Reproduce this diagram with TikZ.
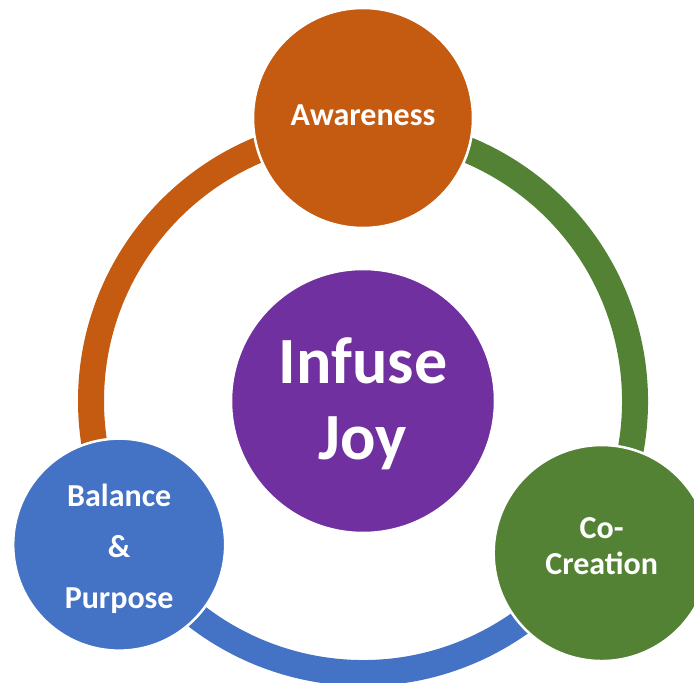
\documentclass[tikz,border=0pt]{standalone}
\usepackage{fontspec}
\setmainfont{Carlito}
\definecolor{awareorange}{HTML}{C55A11}
\definecolor{cogreen}{HTML}{548235}
\definecolor{balblue}{HTML}{4472C4}
\definecolor{joypurple}{HTML}{7030A0}
\tikzset{
  bubble/.style={circle, draw=white, line width=2.5pt, inner sep=0pt},
  caption/.style={text=white, align=center, inner sep=0pt, font=\bfseries\fontsize{32}{36}\selectfont},
  ringarc/.style={line width=26pt}
}
\begin{document}
\begin{tikzpicture}[x=1pt,y=1pt]
  % Ring parameters
  \def\ringradius{272pt} % radius of the coloured ring
  \def\spoke{283}        % distance from the hub to the outer circles

  \useasboundingbox (0,0) rectangle (694,683);
  \clip (0,0) rectangle (694,683);
  \coordinate (hub) at (363,282);

  % Draw the three ring segments
  \draw[ringarc, awareorange] (hub) ++(90:272) arc[start angle=90, end angle=210, radius=\ringradius];
  \draw[ringarc, balblue] (hub) ++(210:272) arc[start angle=210, end angle=330, radius=\ringradius];
  \draw[ringarc, cogreen] (hub) ++(-30:272) arc[start angle=-30, end angle=90, radius=\ringradius];

  % Draw the circles
  \node[bubble, fill=joypurple, minimum size=264pt] (joy) at (hub) {};
  \node[bubble, fill=awareorange, minimum size=220pt] (awareness) at ([shift={(90:\spoke)}]hub) {};
  \node[bubble, fill=balblue, minimum size=212pt] (balance) at ([shift={(210.5:\spoke)}]hub) {};
  \node[bubble, fill=cogreen, minimum size=216pt] (cocreation) at ([shift={(-32.5:\spoke)}]hub) {};

  % Texts on the circles
  \node[caption, font=\bfseries\fontsize{66}{76}\selectfont] (joytext) at ([yshift=-3pt]joy) {Infuse\\Joy};
  \node[caption] (awarenesstext) at ([yshift=3pt]awareness) {Awareness};
  \node[caption, font=\bfseries\fontsize{32}{51}\selectfont] (balancetext) at ([yshift=-4pt]balance) {Balance\\\&\\Purpose};
  \node[caption] (cocreationtext) at ([yshift=7pt]cocreation) {Co-\\Creation};
\end{tikzpicture}
\end{document}
